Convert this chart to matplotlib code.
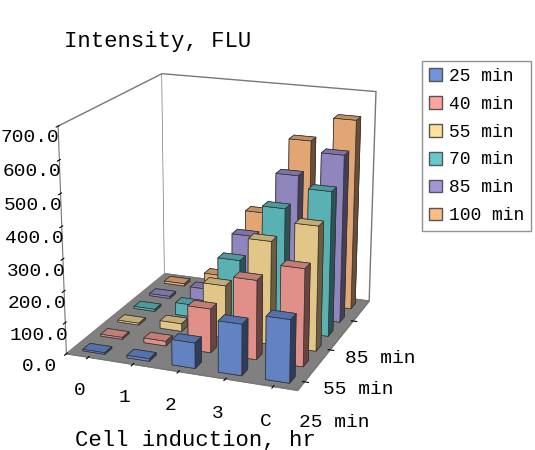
import numpy as np
import matplotlib.pyplot as plt
from matplotlib.patches import Patch

plt.rcParams['font.family'] = ['Liberation Mono', 'DejaVu Sans Mono']

# categories (cell induction, hr) and series (time, min)
categories = ['0', '1', '2', '3', 'C']
series = ['25 min', '40 min', '55 min', '70 min', '85 min', '100 min']
depth_labels = ['25 min', '55 min', '85 min']

v25 = [5, 8, 80, 160, 195]
v40 = [6, 15, 140, 250, 305]
v55 = [6, 25, 170, 330, 395]
v70 = [7, 40, 210, 395, 465]
v85 = [7, 50, 250, 465, 545]
v100 = [8, 55, 290, 545, 625]
values = [v25, v40, v55, v70, v85, v100]

colors = ['#6f93dc', '#ffa39b', '#ffe09a', '#66c8cc', '#a496d6', '#ffbc82']

fig = plt.figure(figsize=(5.35, 4.5), dpi=100)
ax = fig.add_axes([-0.02, 0.07, 0.86, 0.86], projection='3d')

w = 0.5
d = 0.4
for j, vals in enumerate(values):
    for i, v in enumerate(vals):
        ax.bar3d(i - w / 2, j - d / 2, 0, w, d, v, color=colors[j],
                 edgecolor='#333333', linewidth=0.5, shade=True)

ax.view_init(elev=18, azim=-69)
ax.set_proj_type('persp', focal_length=0.7)
ax.set_box_aspect((1.66, 1.7, 1.6), zoom=1.03)
ax.set_xlim(-0.5, 4.5)
ax.set_ylim(-0.5, 5.5)
ax.set_zlim(0, 700)

ax.set_xticks(range(len(categories)))
ax.set_xticklabels(categories, fontsize=14)
ax.set_yticks([0, 2, 4])
ax.set_yticklabels(depth_labels, fontsize=14)
ax.set_zticks(np.arange(0, 701, 100))
ax.set_zticklabels(['%.1f' % t for t in np.arange(0, 701, 100)], fontsize=14)
ax.zaxis.set_ticks_position('lower')
ax.tick_params(axis='y', pad=10)

ax.grid(False)
ax.xaxis.set_pane_color((1, 1, 1, 1))
ax.yaxis.set_pane_color((1, 1, 1, 1))
ax.zaxis.set_pane_color((0.5, 0.5, 0.5, 1))
for a in (ax.xaxis, ax.yaxis, ax.zaxis):
    a.pane.set_edgecolor('#777777')
    a.line.set_color('#777777')

fig.text(0.12, 0.895, 'Intensity, FLU', fontsize=16)
fig.text(0.14, 0.01, 'Cell induction, hr', fontsize=16)

handles = [Patch(facecolor=c, edgecolor='#555555') for c in colors]
fig.legend(handles, series, loc='upper right', bbox_to_anchor=(1.01, 0.885),
           fontsize=13, frameon=True, fancybox=False, edgecolor='#777777',
           handlelength=0.7, handleheight=0.7, borderpad=0.4, labelspacing=0.6,
           handletextpad=0.4)

fig.savefig('out.png')
